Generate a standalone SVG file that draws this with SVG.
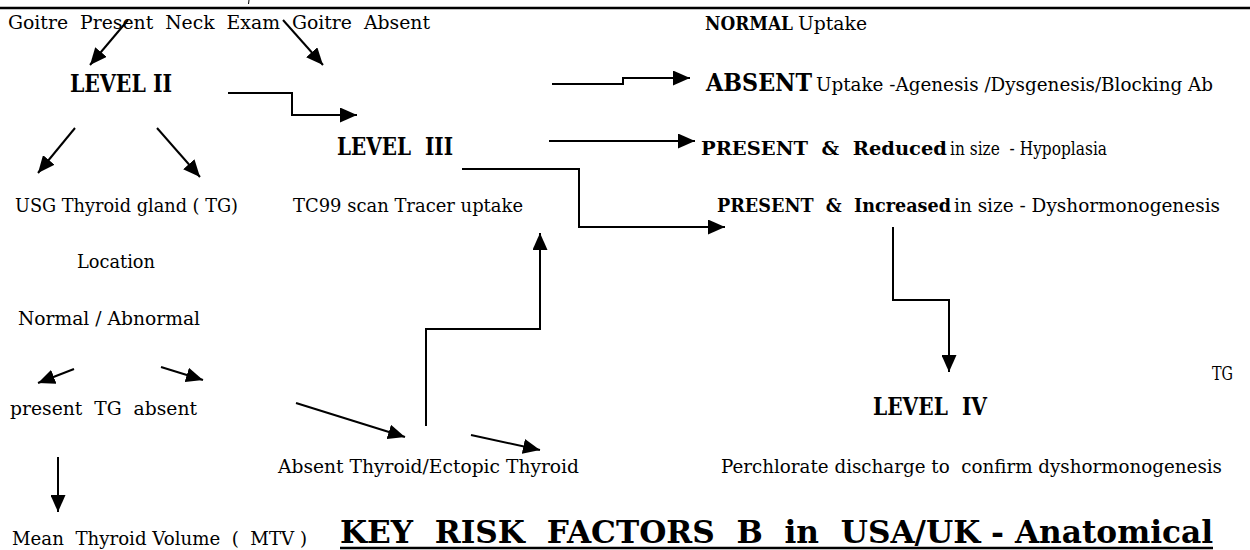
<svg xmlns="http://www.w3.org/2000/svg" width="1250" height="550" viewBox="0 0 1250 550">
<style>
text{font-family:"DejaVu Serif","Liberation Serif",serif;fill:#000;}
.r{font-size:18px;}
.b{font-size:19px;font-weight:bold;}
.lv{font-size:24px;font-weight:bold;}
.big{font-size:25px;font-weight:bold;}
.ttl{font-size:31px;font-weight:bold;}
.c{fill:none;stroke:#000;stroke-width:2;marker-end:url(#ah);}
</style>
<defs>
<marker id="ah" markerUnits="userSpaceOnUse" markerWidth="17" markerHeight="15" viewBox="0 0 17 15" refX="17" refY="7.5" orient="auto">
<path d="M0,0 L17,7.5 L0,15 Z" fill="#000"/>
</marker>
</defs>
<rect width="1250" height="550" fill="#fff"/>
<line x1="0" y1="8" x2="1250" y2="8" stroke="#000" stroke-width="2.5"/>
<line x1="249" y1="0" x2="248.5" y2="4" stroke="#000" stroke-width="1"/>

<g id="neck-exam"><text class="r" x="8" y="29" textLength="422" lengthAdjust="spacingAndGlyphs" xml:space="preserve">Goitre  Present  Neck  Exam  Goitre  Absent</text></g>
<g id="normal-uptake"><text class="b" x="705" y="30" textLength="88" lengthAdjust="spacingAndGlyphs">NORMAL</text><text class="r" x="798" y="30" textLength="69" lengthAdjust="spacingAndGlyphs">Uptake</text></g>
<g id="level-2"><text class="lv" x="70" y="92" textLength="102" lengthAdjust="spacingAndGlyphs">LEVEL II</text></g>
<g id="absent-uptake"><text class="big" x="706" y="91" textLength="106" lengthAdjust="spacingAndGlyphs">ABSENT</text><text class="r" x="816" y="91" textLength="397" lengthAdjust="spacingAndGlyphs">Uptake -Agenesis /Dysgenesis/Blocking Ab</text></g>
<g id="level-3"><text class="lv" x="337" y="155" textLength="116" lengthAdjust="spacingAndGlyphs" xml:space="preserve">LEVEL  III</text></g>
<g id="present-reduced"><text class="b" x="701" y="155" textLength="246" lengthAdjust="spacingAndGlyphs" xml:space="preserve">PRESENT  &amp;  Reduced</text><text class="r" x="950" y="155" textLength="157" lengthAdjust="spacingAndGlyphs" xml:space="preserve">in size  - Hypoplasia</text></g>
<g id="present-increased"><text class="b" x="717" y="212" textLength="234" lengthAdjust="spacingAndGlyphs" xml:space="preserve">PRESENT  &amp;  Increased</text><text class="r" x="954" y="212" textLength="266" lengthAdjust="spacingAndGlyphs">in size - Dyshormonogenesis</text></g>
<g id="usg"><text class="r" x="15" y="212" textLength="223" lengthAdjust="spacingAndGlyphs">USG Thyroid gland ( TG)</text></g>
<g id="tc99"><text class="r" x="293" y="212" textLength="230" lengthAdjust="spacingAndGlyphs">TC99 scan Tracer uptake</text></g>
<g id="location"><text class="r" x="77" y="268" textLength="78" lengthAdjust="spacingAndGlyphs">Location</text></g>
<g id="normal-abnormal"><text class="r" x="18" y="325" textLength="182" lengthAdjust="spacingAndGlyphs">Normal / Abnormal</text></g>
<g id="present-absent"><text class="r" x="10" y="415" textLength="187" lengthAdjust="spacingAndGlyphs" xml:space="preserve">present  TG  absent</text></g>
<g id="tg"><text class="r" x="1212" y="380" textLength="21" lengthAdjust="spacingAndGlyphs">TG</text></g>
<g id="level-4"><text class="lv" x="873" y="415" textLength="114" lengthAdjust="spacingAndGlyphs" xml:space="preserve">LEVEL  IV</text></g>
<g id="absent-thyroid"><text class="r" x="278" y="473" textLength="301" lengthAdjust="spacingAndGlyphs">Absent Thyroid/Ectopic Thyroid</text></g>
<g id="perchlorate"><text class="r" x="721" y="473" textLength="501" lengthAdjust="spacingAndGlyphs" xml:space="preserve">Perchlorate discharge to  confirm dyshormonogenesis</text></g>
<g id="mtv"><text class="r" x="12" y="545" textLength="295" lengthAdjust="spacingAndGlyphs" xml:space="preserve">Mean  Thyroid Volume  (  MTV )</text></g>
<g id="title"><text class="ttl" x="340" y="543" textLength="873" lengthAdjust="spacingAndGlyphs" xml:space="preserve">KEY  RISK  FACTORS  B  in  USA/UK - Anatomical</text><line x1="340" y1="548" x2="1213" y2="548" stroke="#000" stroke-width="2.5"/></g>

<g id="connectors">
<line class="c" x1="128" y1="20" x2="90" y2="65"/>
<line class="c" x1="283" y1="20" x2="323" y2="65"/>
<polyline class="c" points="228,93 292,93 292,115 357,115"/>
<polyline class="c" points="552,84 623,84 623,78 690,78"/>
<line class="c" x1="549" y1="141" x2="695" y2="141"/>
<polyline class="c" points="462,169 579,169 579,227 725,227"/>
<polyline class="c" points="893,227 893,300 949,300 949,372"/>
<line class="c" x1="75" y1="128" x2="38" y2="173"/>
<line class="c" x1="157" y1="128" x2="200" y2="177"/>
<line class="c" x1="74" y1="369" x2="38" y2="383"/>
<line class="c" x1="161" y1="367" x2="203" y2="380"/>
<line class="c" x1="296" y1="403" x2="405" y2="437"/>
<polyline class="c" points="426,426 426,329 540,329 540,233"/>
<line class="c" x1="471" y1="435" x2="540" y2="450"/>
<line class="c" x1="58" y1="457" x2="58" y2="512"/>
</g>
</svg>
